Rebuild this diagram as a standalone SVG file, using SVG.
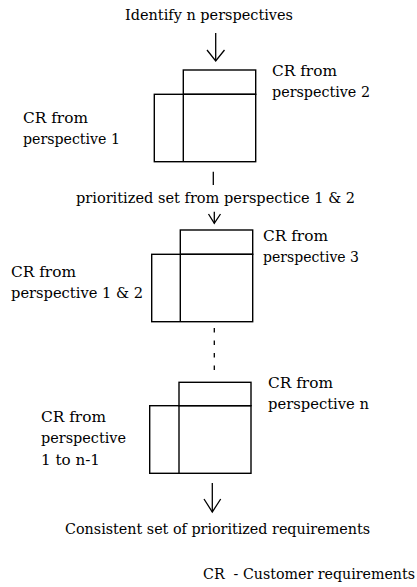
<svg xmlns="http://www.w3.org/2000/svg" width="417" height="587" viewBox="0 0 417 587">
<style>
text{font-family:"DejaVu Serif","Liberation Serif",serif;font-size:14px;fill:#000;white-space:pre}
.b{fill:none;stroke:#000;stroke-width:1.4}
.c{fill:none;stroke:#000;stroke-width:1.3}
</style>
<rect width="417" height="587" fill="#fff"/>
<g id="start"><text x="125" y="20" textLength="168" lengthAdjust="spacingAndGlyphs">Identify n perspectives</text></g>
<g id="matrix1">
<rect class="b" x="183.3" y="70" width="72.4" height="24.3"/>
<rect class="b" x="154.3" y="94.3" width="101.4" height="67.4"/>
<line class="b" x1="183.3" y1="94.3" x2="183.3" y2="161.7"/>
<text x="272" y="76" textLength="65" lengthAdjust="spacingAndGlyphs">CR from</text><text x="272" y="97" textLength="98" lengthAdjust="spacingAndGlyphs">perspective 2</text>
<text x="23" y="123" textLength="65" lengthAdjust="spacingAndGlyphs">CR from</text><text x="23" y="144" textLength="97" lengthAdjust="spacingAndGlyphs">perspective 1</text>
</g>
<g id="mid1"><text x="76" y="203" textLength="279" lengthAdjust="spacingAndGlyphs">prioritized set from perspectice 1 &amp; 2</text></g>
<g id="matrix2">
<rect class="b" x="180.3" y="230" width="72.4" height="24.3"/>
<rect class="b" x="151.7" y="254.3" width="101" height="67.4"/>
<line class="b" x1="180.3" y1="254.3" x2="180.3" y2="321.7"/>
<text x="263" y="241" textLength="65" lengthAdjust="spacingAndGlyphs">CR from</text><text x="263" y="262" textLength="96" lengthAdjust="spacingAndGlyphs">perspective 3</text>
<text x="11" y="277" textLength="65" lengthAdjust="spacingAndGlyphs">CR from</text><text x="11" y="298" textLength="132" lengthAdjust="spacingAndGlyphs">perspective 1 &amp; 2</text>
</g>
<g id="matrix3">
<rect class="b" x="179" y="382.3" width="72" height="23.4"/>
<rect class="b" x="149.7" y="405.7" width="101.3" height="67.6"/>
<line class="b" x1="179" y1="405.7" x2="179" y2="473.3"/>
<text x="268" y="388" textLength="65" lengthAdjust="spacingAndGlyphs">CR from</text><text x="268" y="409" textLength="101" lengthAdjust="spacingAndGlyphs">perspective n</text>
<text x="41" y="422" textLength="65" lengthAdjust="spacingAndGlyphs">CR from</text><text x="41" y="443" textLength="85" lengthAdjust="spacingAndGlyphs">perspective</text><text x="41" y="465" textLength="59" lengthAdjust="spacingAndGlyphs">1 to n-1</text>
</g>
<g id="end"><text x="65" y="534" textLength="305" lengthAdjust="spacingAndGlyphs">Consistent set of prioritized requirements</text></g>
<g id="legend"><text x="203" y="579" textLength="212" lengthAdjust="spacingAndGlyphs">CR  - Customer requirements</text></g>
<g id="connectors">
<line class="c" x1="215.7" y1="33" x2="215.7" y2="61"/>
<polyline class="c" points="207,50 215.7,61 224.5,50"/>
<line class="c" x1="213.3" y1="171.7" x2="213.3" y2="185"/>
<line class="c" x1="214.3" y1="211.7" x2="214.3" y2="223.3"/>
<polyline class="c" points="208.5,214 214.3,223.3 220.5,214"/>
<line class="c" x1="214.3" y1="328" x2="214.3" y2="371" stroke-dasharray="4.5 8"/>
<line class="c" x1="212.3" y1="483" x2="212.3" y2="512"/>
<polyline class="c" points="204,499 212.3,512 220.7,499"/>
</g>
</svg>
